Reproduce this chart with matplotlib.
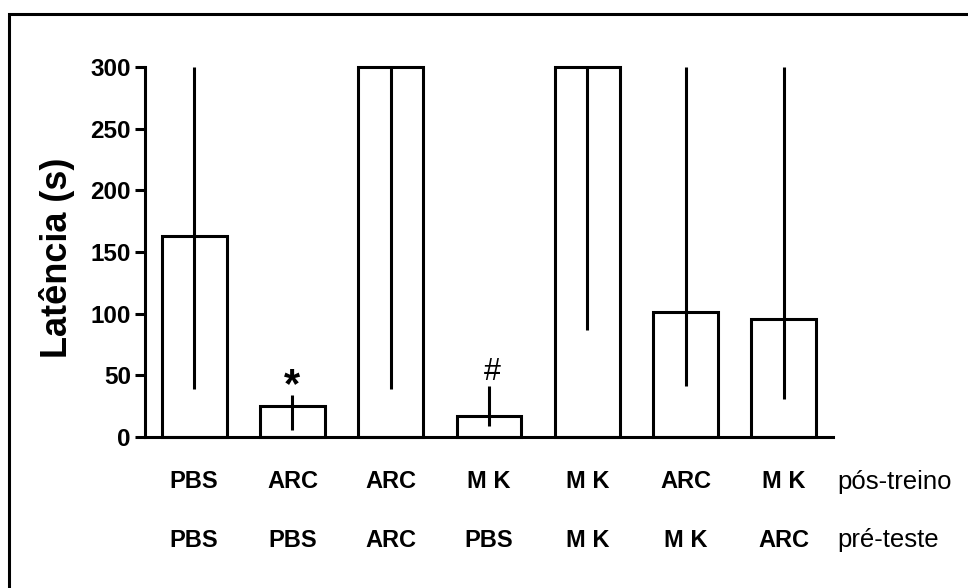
import matplotlib
matplotlib.use("Agg")
import matplotlib.pyplot as plt
from matplotlib.patches import Rectangle
from matplotlib.transforms import blended_transform_factory
import numpy as np

# ---- data ----
pos_treino = ["PBS", "ARC", "ARC", "M K", "M K", "ARC", "M K"]
pre_teste = ["PBS", "PBS", "ARC", "PBS", "M K", "M K", "ARC"]
latency = [163, 25, 300, 17, 300, 101, 96]
range_low = [39, 6, 39, 9, 87, 41, 31]
range_high = [300, 34, 300, 41, 300, 300, 300]
marks = ["", "*", "", "#", "", "", ""]
yticks = [0, 50, 100, 150, 200, 250, 300]
row_names = ["pós-treino", "pré-teste"]

plt.rcParams['font.family'] = ['Liberation Sans', 'DejaVu Sans']

W, H = 968, 588
fig = plt.figure(figsize=(W / 100, H / 100), dpi=100)
ax = fig.add_axes([145 / W, 1 - 437 / H, (833 - 145) / W, (437 - 67) / H])

x = np.arange(len(latency))
lw = 2.2
ax.bar(x, latency, width=0.66, facecolor="white", edgecolor="black",
       linewidth=lw, clip_on=False, zorder=2)
ax.vlines(x, range_low, range_high, color="black", linewidth=lw,
          clip_on=False, zorder=3)

for xi, m, hi in zip(x, marks, range_high):
    if m == "*":
        ax.annotate(m, (xi, hi), xytext=(-0.5, -1.5), textcoords="offset points",
                    ha="center", va="baseline", fontsize=30, fontweight="bold")
    elif m == "#":
        ax.annotate(m, (xi, hi), xytext=(2.5, 4.6), textcoords="offset points",
                    ha="center", va="baseline", fontsize=22)

ax.set_xlim(-0.5, 6.5)
ax.set_ylim(0, 300)
ax.set_yticks(yticks)
ax.set_yticklabels([str(t) for t in yticks], fontsize=17.5, fontweight="bold")
ax.set_xticks([])
for s in ["top", "right"]:
    ax.spines[s].set_visible(False)
for s in ["left", "bottom"]:
    ax.spines[s].set_linewidth(lw)
ax.tick_params(axis="y", length=7.2, width=lw, pad=3)

trans = blended_transform_factory(ax.transData, fig.transFigure)
row_y = [1 - 488.5 / H, 1 - 547 / H]
for labels, yy, name in zip([pos_treino, pre_teste], row_y, row_names):
    for xi, lab in zip(x, labels):
        ax.text(xi, yy, lab, transform=trans, ha="center", va="baseline",
                fontsize=17, fontweight="bold")
    fig.text(837 / W, yy, name, ha="left", va="baseline", fontsize=18.5)

fig.text(57 / W, 1 - 258 / H, "Latência (s)", rotation=90, ha="center",
         va="center", fontsize=26, fontweight="bold")

# outer frame
fig.add_artist(Rectangle((9 / W, -0.1), 1.2, (1 - 14 / H) + 0.1,
                         transform=fig.transFigure, fill=False,
                         edgecolor="black", linewidth=2.2, clip_on=False))

fig.savefig("out.png", dpi=100, facecolor="white")
